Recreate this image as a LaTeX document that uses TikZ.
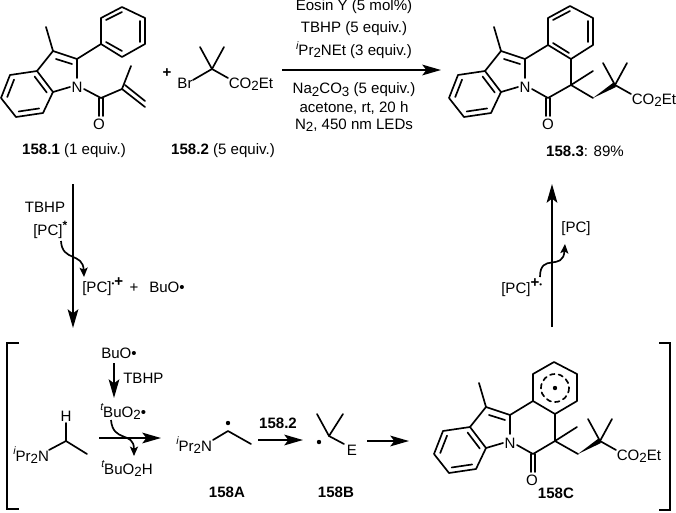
\documentclass[tikz,border=0pt]{standalone}
\usepackage{fontspec}
\setmainfont{Liberation Sans}
\usetikzlibrary{calc}
\usetikzlibrary{arrows.meta}

\newcommand{\subtxt}[1]{\raisebox{-0.3ex}{\fontsize{10}{10}\selectfont #1}}
\newcommand{\ipr}{\raisebox{0.42em}{\fontsize{8}{8}\selectfont\itshape i}}
\newcommand{\tbu}{\raisebox{0.42em}{\fontsize{8}{8}\selectfont\itshape t}}
\newcommand{\raddot}{\raisebox{0.45em}{\fontsize{6}{6}\selectfont •}}

% Inner line of a double bond, drawn towards the ring centre (c)
\newcommand{\innerbond}[2]{\draw[bond] ($(c)!0.76!#1$) -- ($(c)!0.76!#2$);}

% Indole part with its methyl, N label at (77,87)
\newcommand{\indole}{%
    \draw[bond] (37,71) -- (10,75) -- (1,98) -- (16,117) -- (43,113) -- (53,92) -- cycle;
    \coordinate (c) at (27,94);
    \innerbond{(10,75)}{(1,98)}
    \innerbond{(16,117)}{(43,113)}
    \innerbond{(37,71)}{(53,92)}
    \draw[bond] (37,71) -- (53,51) -- (77,59) -- (77,78);
    \draw[bond] (53,92) -- (70,87);
    \draw[bond] (56,59) -- (72,64);
    \draw[bond] (53,51) -- (46,27);
    \node[lab] (n) at (77,87) {N};
}

% Quaternary carbon with two methyls and the ester, centre at (0,0)
\newcommand{\ester}{%
    \draw[bond] (0,0) -- (-12,-22);
    \draw[bond] (0,0) -- (12,-22);
    \draw[bond] (0,0) -- (16,9);
    \node[lab, anchor=base west] (ester) at (16.5,19) {CO\subtxt{2}Et};
}

\begin{document}
\begin{tikzpicture}[x=0.75pt, y=-0.75pt,
    bond/.style={line width=1.25pt, line cap=round, line join=round},
    lab/.style={inner sep=0pt, font=\fontsize{11.3}{13}\selectfont},
    rxn/.style={line width=1.5pt, -{Stealth[length=14pt, width=8pt, inset=3pt]}},
    curly/.style={line width=1.25pt, -{Stealth[length=7pt, width=6pt, inset=1.5pt]}}]

    \useasboundingbox (0,0) rectangle (676,512);

    % 158.1
    \indole
    \draw[bond] (77,59) -- (101,44) -- (101,18) -- (122,7) -- (145,18) -- (145,44) -- (122,57) -- (101,44);
    \draw[bond] (106,20) -- (122,12);
    \draw[bond] (140,21) -- (140,42);
    \draw[bond] (106,42) -- (122,51);
    \draw[bond] (84,89) -- (101,98) -- (122,89) -- (131,66);
    \draw[bond] (99,98) -- (99,116);
    \draw[bond] (103,98) -- (103,116);
    \draw[bond] (122,89) -- (145,107);
    \draw[bond] (125,85) -- (145,101);
    \node[lab] (oxa) at (99,124) {O};
    \node[lab] (lab1) at (74,151) {\textbf{158.1} (1 equiv.)};

    % 158.2
    \node[lab] (plus) at (167,73) {\textbf{+}};
    \node[lab] (br) at (185,83) {Br};
    \begin{scope}[shift={(212,69)}]
        \ester
    \end{scope}
    \draw[bond] (193,80) -- (212,69);
    \node[lab] (lab2) at (223,151) {\textbf{158.2} (5 equiv.)};

    % Conditions
    \coordinate (mainstart) at (282,70);
    \coordinate (mainend) at (441,70);
    \draw[rxn] (mainstart) -- (mainend);
    \node[lab] (c1) at (354,7) {Eosin Y (5 mol\%)};
    \node[lab] (c2) at (354,29) {TBHP (5 equiv.)};
    \node[lab] (c3) at (354,50) {\ipr Pr\subtxt{2}NEt (3 equiv.)};
    \node[lab] (c4) at (354,90) {Na\subtxt{2}CO\subtxt{3} (5 equiv.)};
    \node[lab] (c5) at (354,108) {acetone, rt, 20 h};
    \node[lab] (c6) at (354,125) {N\subtxt{2}, 450 nm LEDs};

    % 158.3
    \begin{scope}[shift={(448,0)}]
        \indole
    \end{scope}
    \draw[bond] (525,59) -- (548,45) -- (548,18) -- (570,6) -- (593,18) -- (593,45) -- (571,59) -- (548,45);
    \draw[bond] (553,20) -- (570,11);
    \draw[bond] (588,21) -- (588,42);
    \draw[bond] (553,43) -- (569,53);
    \draw[bond] (571,59) -- (571,85) -- (548,98) -- (532,89);
    \draw[bond] (546,98) -- (546,116);
    \draw[bond] (550,98) -- (550,116);
    \draw[bond] (571,85) -- (593,71);
    \draw[bond] (571,85) -- (593,98);
    \fill (593,98) -- (613.5,82.5) -- (616,87) -- cycle;
    \begin{scope}[shift={(615,85)}]
        \ester
    \end{scope}
    \node[lab] (oxb) at (548,124) {O};
    \node[lab] (lab3) at (585,151) {\textbf{158.3}: 89\%};

    % Left arrow
    \coordinate (downstart) at (73,184);
    \coordinate (downend) at (73,328);
    \draw[rxn] (downstart) -- (downend);
    \node[lab] (tbhpa) at (45,207) {TBHP};
    \node[lab, anchor=west] (pca) at (33,230) {[PC]\raisebox{0.35em}{\fontsize{9}{9}\selectfont\bfseries *}};
    \draw[curly] (61,241) .. controls (62,262) and (83,252) .. (84,277);
    \node[lab, anchor=west] (pcb) at (82,287) {[PC]\raddot\raisebox{0.4em}{\textbf{+}}};
    \node[lab] (plusb) at (134,288) {+};
    \node[lab, anchor=west] (buoa) at (149,287) {BuO•};

    % Right arrow
    \coordinate (upstart) at (552,327);
    \coordinate (upend) at (552,184);
    \draw[rxn] (upstart) -- (upend);
    \node[lab] (pcc) at (576,229) {[PC]};
    \node[lab, anchor=west] (pcd) at (501,288) {[PC]\raisebox{0.4em}{\textbf{+}}\raddot};
    \draw[curly] (540,277) .. controls (540,252) and (563,272) .. (565,244);

    % Brackets
    \draw[line width=1.5pt] (19,343) -- (7,343) -- (7,509) -- (19,509);
    \draw[line width=1.5pt] (659,343) -- (670,343) -- (670,510) -- (659,510);

    % Amine
    \node[lab, anchor=base west] (amine) at (13,461) {\ipr Pr\subtxt{2}N};
    \draw[bond] (49,450) -- (66,441) -- (87,454);
    \draw[bond] (66,441) -- (66,423);
    \node[lab] (h) at (66,416) {H};

    % Peroxyl step
    \node[lab, anchor=west] (buob) at (101,353) {BuO•};
    \draw[rxn, line width=1.25pt] (114,363) -- (114,398);
    \node[lab, anchor=west] (tbhpb) at (123,378) {TBHP};
    \node[lab, anchor=base west] (bu) at (100,417) {\tbu BuO\subtxt{2}•};
    \coordinate (hatstart) at (99,438);
    \coordinate (hatend) at (161,438);
    \draw[rxn] (hatstart) -- (hatend);
    \draw[curly] (111,420) .. controls (113,443) and (134,431) .. (134,456);
    \node[lab, anchor=base west] (buh) at (101,474) {\tbu BuO\subtxt{2}H};

    % 158A
    \node[lab, anchor=base west] (amina) at (176,451) {\ipr Pr\subtxt{2}N};
    \draw[bond] (213,440) -- (228,431) -- (251,444);
    \fill (228,423) circle (2.2);
    \node[lab] (laba) at (227,492) {\textbf{158A}};
    \coordinate (astart) at (258,440);
    \coordinate (aend) at (303,440);
    \draw[rxn] (astart) -- (aend);
    \node[lab] (rgt) at (278,423) {\textbf{158.2}};

    % 158B
    \draw[bond] (317,414) -- (329,436) -- (343,414);
    \draw[bond] (329,436) -- (344,444);
    \fill (319,442) circle (2.2);
    \node[lab] (e) at (352,450) {E};
    \node[lab] (labb) at (336,492) {\textbf{158B}};
    \coordinate (bstart) at (367,441);
    \coordinate (bend) at (409,441);
    \draw[rxn] (bstart) -- (bend);

    % 158C
    \begin{scope}[shift={(433,356)}]
        \indole
    \end{scope}
    \draw[bond] (510,415) -- (533,401) -- (533,374) -- (554,362) -- (577,374) -- (577,401) -- (555,414) -- (533,401);
    \draw[bond, dash pattern=on 3.5pt off 3pt] (555,388) circle (14);
    \fill (555,388) circle (2.2);
    \draw[bond] (555,414) -- (555,441) -- (533,454) -- (517,445);
    \draw[bond] (531,454) -- (531,472);
    \draw[bond] (535,454) -- (535,472);
    \draw[bond] (555,441) -- (577,427);
    \draw[bond] (555,441) -- (578,454);
    \fill (578,454) -- (598.5,438.5) -- (601,443) -- cycle;
    \begin{scope}[shift={(600,441)}]
        \ester
    \end{scope}
    \node[lab] (oxc) at (532,480) {O};
    \node[lab] (labc) at (556,493) {\textbf{158C}};
\end{tikzpicture}
\end{document}
